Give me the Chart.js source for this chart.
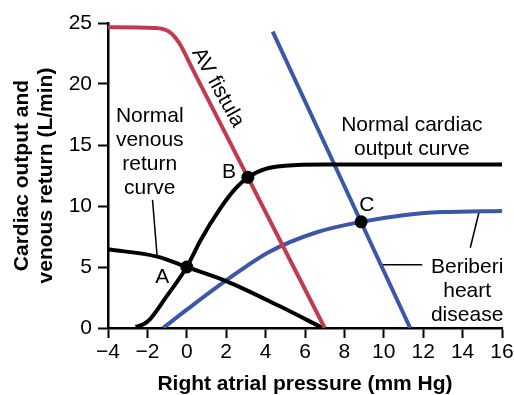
<!DOCTYPE html>
<html>
<head>
<meta charset="utf-8">
<script src="https://cdn.jsdelivr.net/npm/chart.js@4/dist/chart.umd.min.js"></script>
<style>
    html, body { margin: 0; padding: 0; background: #fff; }
</style>
</head>
<body>
<canvas id="chart" width="514" height="395"></canvas>
<script>
// Кривые (давление в правом предсердии, мм рт. ст. -> л/мин)
const avFistulaX = [-4, -1.6, -0.9, -0.4, 0.3, 3.1, 7];
const avFistulaY = [24.65, 24.6, 24.3, 23.4, 21.2, 12.35, 0];

const normalCOX = [-2.6, -2.2, -1.85, -1, 0, 0.7, 1.7, 2.4, 3.1, 4, 5, 7, 16];
const normalCOY = [0.1, 0.3, 0.75, 2.65, 5, 7.2, 9.8, 11.3, 12.35, 13.05, 13.3, 13.4, 13.4];

const normalVRX = [-4, -1.5, 0, 2, 4.7, 6.9];
const normalVRY = [6.45, 5.85, 5, 3.85, 1.8, 0];

const beriberiVRX = [4.36, 11.34];
const beriberiVRY = [24.3, 0];

const beriberiCOX = [-1.2, 0, 2, 4.2, 6.6, 8.85, 11, 13, 16];
const beriberiCOY = [0, 1.5, 3.9, 6.25, 7.85, 8.7, 9.25, 9.5, 9.6];

// Точки равновесия A, B, C
const pointNames = ['A', 'B', 'C'];
const pointX = [0, 3.1, 8.85];
const pointY = [5, 12.35, 8.7];

// Выноски
const leaderVRX = [-1.74, -1.51];
const leaderVRY = [10.5, 5.95];
const leaderBeriberiVRX = [9.95, 11.95];
const leaderBeriberiVRY = [5.19, 5.19];
const leaderBeriberiCOX = [14.39, 14.84];
const leaderBeriberiCOY = [6.58, 9.53];

// Оси
const xMin = -4, xMax = 16, xStep = 2;
const yMin = 0, yMax = 25, yStep = 5;
const xTitle = 'Right atrial pressure (mm Hg)';
const yTitle = ['Cardiac output and', 'venous return (L/min)'];

// Подписи
const labelVR = ['Normal', 'venous', 'return', 'curve'];
const labelCO = ['Normal cardiac', 'output curve'];
const labelBeriberi = ['Beriberi', 'heart', 'disease'];
const labelAV = 'AV fistula';

const RED = '#c23b4d';
const BLUE = '#3b58a8';
const FONT = '"Liberation Sans", Arial, Helvetica, sans-serif';

const toPoints = (xs, ys) => xs.map((x, i) => ({ x: x, y: ys[i] }));

function curve(xs, ys, color, width) {
    return {
        data: toPoints(xs, ys),
        borderColor: color,
        borderWidth: width,
        pointRadius: 0,
        showLine: true,
        fill: false,
        cubicInterpolationMode: 'monotone',
        borderCapStyle: 'butt'
    };
}

function leader(xs, ys) {
    return {
        data: toPoints(xs, ys),
        borderColor: '#000',
        borderWidth: 1.5,
        pointRadius: 0,
        showLine: true,
        fill: false,
        tension: 0
    };
}

// Текст поверх графика
const textPlugin = {
    id: 'texts',
    afterDatasetsDraw(chart) {
        const ctx = chart.ctx;
        const sx = chart.scales.x, sy = chart.scales.y;
        const px = v => sx.getPixelForValue(v);
        const py = v => sy.getPixelForValue(v);

        ctx.save();
        ctx.fillStyle = '#000';
        ctx.font = '21px ' + FONT;
        ctx.textAlign = 'center';
        ctx.textBaseline = 'middle';

        const block = (lines, x, y) => {
            lines.forEach((t, i) => ctx.fillText(t, px(x), py(y) + i * 24));
        };
        block(labelVR, -1.88, 17.35);
        block(labelCO, 11.42, 16.66);
        block(labelBeriberi, 14.23, 5.02);

        const pointLabelPos = [[-1.24, 4.2], [2.14, 12.75], [9.14, 10.1]];
        pointNames.forEach((n, i) => {
            ctx.fillText(n, px(pointLabelPos[i][0]), py(pointLabelPos[i][1]));
        });

        ctx.translate(px(1.58), py(19.7));
        ctx.rotate(61 * Math.PI / 180);
        ctx.fillText(labelAV, 0, 0);
        ctx.restore();
    }
};

// Порядок: первый набор рисуется поверх остальных
const ctx = document.getElementById('chart').getContext('2d');
new Chart(ctx, {
    type: 'scatter',
    data: {
        datasets: [
            {
                data: toPoints(pointX, pointY),
                pointRadius: 6.5,
                pointBackgroundColor: '#000',
                pointBorderWidth: 0,
                showLine: false
            },
            curve(normalCOX, normalCOY, '#000', 4),
            curve(avFistulaX, avFistulaY, RED, 4),
            curve(normalVRX, normalVRY, '#000', 4),
            curve(beriberiVRX, beriberiVRY, BLUE, 4),
            curve(beriberiCOX, beriberiCOY, BLUE, 4),
            leader(leaderVRX, leaderVRY),
            leader(leaderBeriberiVRX, leaderBeriberiVRY),
            leader(leaderBeriberiCOX, leaderBeriberiCOY)
        ]
    },
    options: {
        responsive: false,
        animation: false,
        layout: { padding: { top: 23, right: 12, left: 0, bottom: 0 } },
        plugins: {
            legend: { display: false },
            tooltip: { enabled: false }
        },
        scales: {
            x: {
                type: 'linear',
                min: xMin,
                max: xMax,
                afterFit(scale) {
                    scale.height = 67;
                    scale.paddingLeft = 0;
                    scale.paddingRight = 0;
                },
                ticks: {
                    stepSize: xStep,
                    color: '#000',
                    padding: 2,
                    maxRotation: 0,
                    font: { family: FONT, size: 21 },
                    callback: v => (v < 0 ? '\u2212' + Math.abs(v) : String(v))
                },
                grid: {
                    drawOnChartArea: false,
                    drawTicks: true,
                    tickLength: 10,
                    tickWidth: 2,
                    tickColor: '#000'
                },
                border: { display: true, color: '#000', width: 2.5 },
                title: {
                    display: true,
                    text: xTitle,
                    color: '#000',
                    font: { family: FONT, size: 21, weight: 'bold', lineHeight: 1 },
                    padding: { top: 0, bottom: 0 }
                }
            },
            y: {
                type: 'linear',
                min: yMin,
                max: yMax,
                afterFit(scale) {
                    scale.width = 108;
                    scale.paddingTop = 0;
                    scale.paddingBottom = 0;
                },
                ticks: {
                    stepSize: yStep,
                    color: '#000',
                    padding: 6,
                    font: { family: FONT, size: 21 }
                },
                grid: {
                    drawOnChartArea: false,
                    drawTicks: true,
                    tickLength: 10,
                    tickWidth: 2,
                    tickColor: '#000'
                },
                border: { display: true, color: '#000', width: 2.5 },
                title: {
                    display: true,
                    text: yTitle,
                    color: '#000',
                    font: { family: FONT, size: 21, weight: 'bold', lineHeight: 1.15 },
                    padding: { top: 10, bottom: 0 }
                }
            }
        }
    },
    plugins: [textPlugin]
});
</script>
</body>
</html>
